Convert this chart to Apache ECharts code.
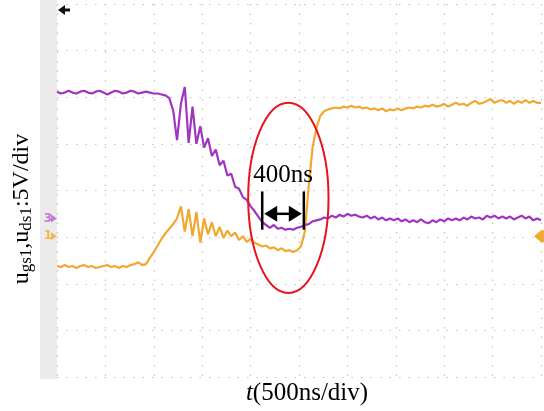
<!DOCTYPE html>
<html><head><meta charset="utf-8">
<script src="https://cdn.jsdelivr.net/npm/echarts@6/dist/echarts.min.js"></script>
<style>html,body{margin:0;padding:0;background:#fff}#c{width:544px;height:411px}</style>
</head><body><div id="c"></div>
<script>
// time samples (ns)
const timesNs = [0,40,80,120,160,200,240,280,320,360,400,440,480,520,560,600,640,680,720,760,800,840,880,920,960,1000,1040,1080,1120,1160,1200,1240,1280,1320,1360,1400,1440,1480,1520,1560,1600,1640,1680,1720,1760,1800,1840,1880,1920,1960,2000,2040,2080,2120,2160,2200,2240,2280,2320,2360,2400,2440,2480,2520,2560,2600,2640,2680,2720,2760,2800,2840,2880,2920,2960,3000,3040,3080,3120,3160,3200,3240,3280,3320,3360,3400,3440,3480,3520,3560,3600,3640,3680,3720,3760,3800,3840,3880,3920,3960,4000,4040,4080,4120,4160,4200,4240,4280,4320,4360,4400,4440,4480,4520,4560,4600,4640,4680,4720,4760,4800,4840,4880,4920,4960,5000];
// u_ds1 (purple, channel 3), screen volts
const udsValues = [30.6,30.4,30.5,30.7,30.5,30.4,30.6,30.7,30.5,30.4,30.6,30.7,30.5,30.3,30.5,30.7,30.6,30.4,30.5,30.7,30.6,30.4,30.5,30.6,30.5,30.4,30.4,30.3,
30.2,29.9,28.6,25.4,29.3,31.1,25.1,29.0,25.0,26.9,
24.6,25.6,23.7,24.4,22.7,23.2,21.6,21.8,20.4,20.2,
19.3,19.0,18.3,17.8,17.2,16.6,16.3,16.0,16.3,15.9,
16.0,15.8,15.9,15.8,16.0,16.1,16.3,16.4,16.7,16.8,
16.9,17.1,17.0,17.3,17.1,17.4,17.2,17.5,17.3,17.4,
17.2,17.1,17.3,17.0,17.2,16.9,17.1,16.8,17.0,16.8,
17.0,16.7,16.9,16.6,16.8,16.6,16.9,16.6,16.5,16.8,
16.6,16.9,16.7,17.0,16.8,17.0,16.8,17.1,16.9,17.2,
17.0,17.1,16.9,17.3,17.1,17.3,17.0,17.2,17.0,17.2,
16.9,17.1,17.3,17.0,17.2,16.8,17.0,16.8];
// u_gs1 (orange, channel 1), screen volts
const ugsValues = [11.9,11.8,12.0,11.8,11.9,11.7,11.9,12.0,11.8,11.9,11.7,11.8,11.9,12.0,11.8,11.9,11.7,11.9,11.8,12.0,12.1,12.3,12.0,
12.1,12.8,13.4,14.1,14.8,
15.4,15.9,16.4,17.0,18.3,15.6,18.0,15.1,17.7,14.4,
17.0,15.3,16.6,15.1,16.1,14.9,15.7,15.1,15.5,14.7,
15.1,14.5,14.8,14.4,14.2,14.0,14.1,13.8,13.9,13.6,
13.8,13.5,13.6,13.4,13.6,14.0,15.6,20.4,24.6,26.7,
28.0,28.5,28.7,28.8,28.9,28.8,29.0,28.9,29.1,28.9,
29.0,28.8,28.9,28.7,28.8,28.6,28.8,28.5,28.7,28.6,
28.8,28.6,28.8,28.9,28.8,29.0,28.9,29.1,29.0,29.2,
29.0,29.1,29.3,29.0,29.2,29.4,29.2,29.3,29.1,29.4,
29.6,29.3,29.4,29.6,29.8,29.4,29.6,29.7,29.4,29.6,
29.3,29.6,29.4,29.7,29.4,29.6,29.4,29.4];
// channel ground markers (screen volts)
const ch3Level = 17.0, ch1Level = 15.1;
// annotation: 400ns interval
const annotStart = 2120, annotEnd = 2550, annotLabel = '400ns';
const ellipseCenter = [2390, 19.2], ellipseHalf = [415, 10.2];
const yTitle = '{n|u}{s|gs1}{n|,u}{s|ds1}{n|:5V/div}';

const purple = '#a035c0', orange = '#f0a830';
const serif = '"Liberation Serif","DejaVu Serif",serif';
const chart = echarts.init(document.getElementById('c'));
const toPairs = (vals) => timesNs.map((t, i) => [t, vals[i]]);
chart.setOption({
  animation: false,
  grid: {left: 57, right: 3, top: 4, bottom: 28},
  xAxis: {type: 'value', min: 0, max: 5000, interval: 500,
    axisLine: {show: false}, axisTick: {show: false}, axisLabel: {show: false},
    splitLine: {show: true, lineStyle: {color: '#c4c4c4', width: 1.2, type: [1.5, 8]}},
    name: '{i|t}{n|(500ns/div)}', nameLocation: 'middle', nameGap: 4,
    nameTextStyle: {padding: [0, 0, 0, 16],
      rich: {i: {fontFamily: serif, fontSize: 25, fontStyle: 'italic', color: '#000'},
             n: {fontFamily: serif, fontSize: 25, color: '#000'}}}},
  yAxis: {type: 'value', min: 0, max: 40, interval: 5,
    axisLine: {show: false}, axisTick: {show: false}, axisLabel: {show: false},
    splitLine: {show: true, lineStyle: {color: '#c4c4c4', width: 1.2, type: [1.5, 8]}}},
  series: [
    {type: 'line', data: toPairs(udsValues), showSymbol: false, lineStyle: {color: purple, width: 2.2}, z: 3},
    {type: 'line', data: toPairs(ugsValues), showSymbol: false, lineStyle: {color: orange, width: 2.2}, z: 2}
  ]
});

function px(t, v) { return chart.convertToPixel({gridIndex: 0}, [t, v]); }
const p3 = px(0, ch3Level), p1 = px(0, ch1Level), pr = px(5000, ch1Level);
const a1 = px(annotStart, 0), a2 = px(annotEnd, 0);
const topY = px(0, 40)[1], botY = px(0, 0)[1];
const ec = px(ellipseCenter[0], ellipseCenter[1]);
const eR = px(ellipseCenter[0] + ellipseHalf[0], ellipseCenter[1] + ellipseHalf[1]);
const rx = eR[0] - ec[0], ry = ec[1] - eR[1];
const barTop = px(0, 19.9)[1], barBot = px(0, 15.8)[1], arrowY = px(0, 17.5)[1];
const labelY = px(0, 20.3)[1];
const gx = a1[0] + 2, gx2 = a2[0] - 2;
chart.setOption({graphic: [
  {type: 'rect', shape: {x: 40, y: 0, width: p3[0] - 40, height: botY + 2}, style: {fill: '#ebebeb'}, z: -1},
  // y axis title
  {type: 'text', x: 22, y: 209, rotation: Math.PI / 2,
   style: {text: yTitle, align: 'center', verticalAlign: 'middle',
     rich: {n: {fontFamily: serif, fontSize: 24, fill: '#000'},
            s: {fontFamily: serif, fontSize: 17, fill: '#000', padding: [9, 0, 0, 0]}}}},
  // top-left arrow
  {type: 'polygon', shape: {points: [[p3[0] + 1, topY + 6], [p3[0] + 8, topY + 1], [p3[0] + 8, topY + 11]]}, style: {fill: '#111'}},
  {type: 'line', shape: {x1: p3[0] + 6, y1: topY + 6, x2: p3[0] + 13, y2: topY + 6}, style: {stroke: '#111', lineWidth: 3}},
  // channel markers
  {type: 'text', style: {x: p3[0] - 5, y: p3[1], text: '3', fill: '#c27ad8', font: 'bold 12px "DejaVu Sans",sans-serif', align: 'right', verticalAlign: 'middle'}},
  {type: 'polygon', shape: {points: [[p3[0] - 6, p3[1] - 4], [p3[0], p3[1]], [p3[0] - 6, p3[1] + 4]]}, style: {fill: '#c27ad8'}},
  {type: 'text', style: {x: p1[0] - 5, y: p1[1], text: '1', fill: '#f3b652', font: 'bold 12px "DejaVu Sans",sans-serif', align: 'right', verticalAlign: 'middle'}},
  {type: 'polygon', shape: {points: [[p1[0] - 6, p1[1] - 4], [p1[0], p1[1]], [p1[0] - 6, p1[1] + 4]]}, style: {fill: '#f3b652'}},
  {type: 'polygon', shape: {points: [[pr[0] - 7, pr[1]], [pr[0], pr[1] - 6], [pr[0] + 3, pr[1] - 6], [pr[0] + 3, pr[1] + 6], [pr[0], pr[1] + 6]]}, style: {fill: '#f3a830'}},
  // ellipse
  {type: 'ellipse', shape: {cx: ec[0], cy: ec[1], rx: rx, ry: ry}, style: {fill: 'none', stroke: '#e8141c', lineWidth: 2}, z: 10},
  // interval bars and arrow
  {type: 'line', shape: {x1: a1[0], y1: barTop, x2: a1[0], y2: barBot}, style: {stroke: '#000', lineWidth: 2.5}, z: 10},
  {type: 'line', shape: {x1: a2[0], y1: barTop, x2: a2[0], y2: barBot}, style: {stroke: '#000', lineWidth: 2.5}, z: 10},
  {type: 'line', shape: {x1: gx + 8, y1: arrowY, x2: gx2 - 8, y2: arrowY}, style: {stroke: '#000', lineWidth: 2.5}, z: 10},
  {type: 'polygon', shape: {points: [[gx, arrowY], [gx + 13, arrowY - 8], [gx + 13, arrowY + 8]]}, style: {fill: '#000'}, z: 10},
  {type: 'polygon', shape: {points: [[gx2, arrowY], [gx2 - 13, arrowY - 8], [gx2 - 13, arrowY + 8]]}, style: {fill: '#000'}, z: 10},
  {type: 'text', style: {x: (a1[0] + a2[0]) / 2, y: labelY, text: annotLabel, fill: '#000', font: '25px ' + serif, align: 'center', verticalAlign: 'bottom'}, z: 10}
]});
</script></body></html>
